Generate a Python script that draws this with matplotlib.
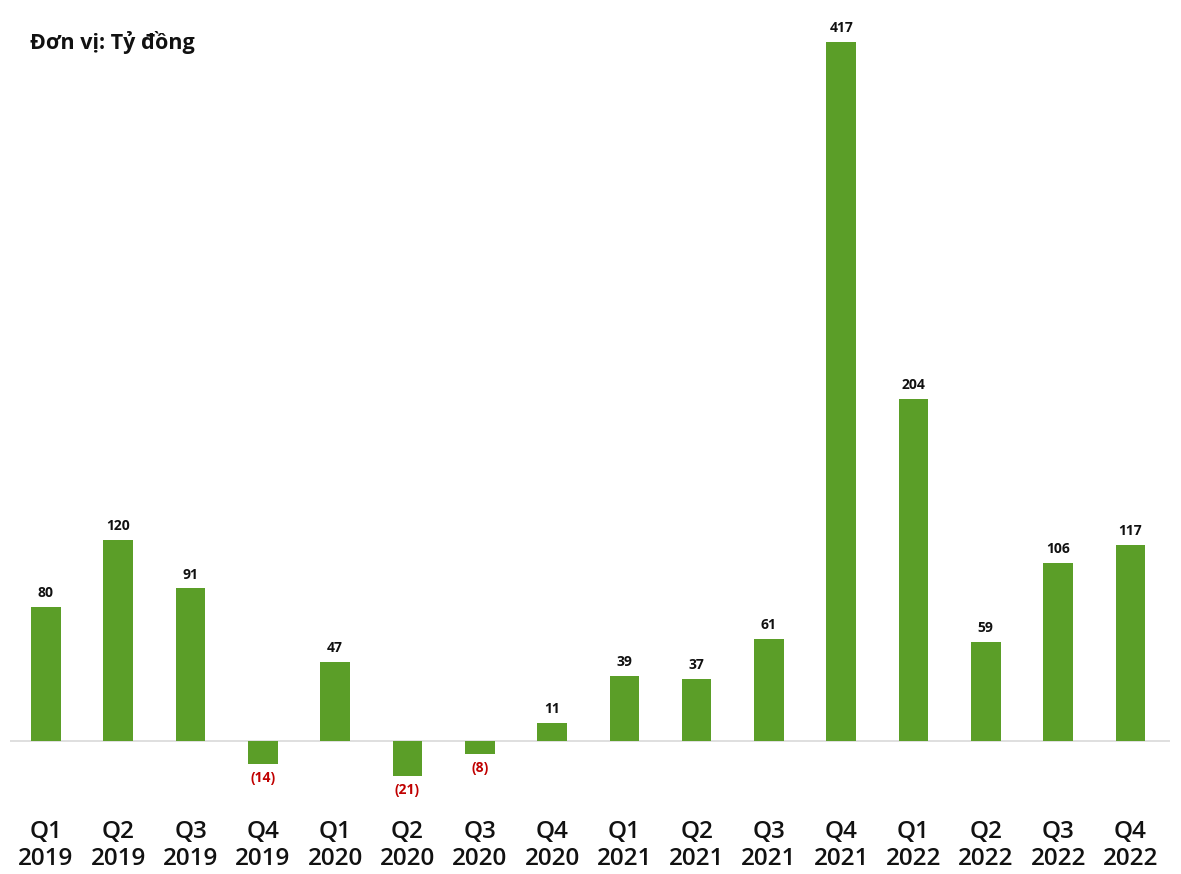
import matplotlib.pyplot as plt

quarters = ["Q1", "Q2", "Q3", "Q4"] * 4
years = ["2019"] * 4 + ["2020"] * 4 + ["2021"] * 4 + ["2022"] * 4
profit = [80, 120, 91, -14, 47, -21, -8, 11, 39, 37, 61, 417, 204, 59, 106, 117]

plt.rcParams["font.family"] = ["Open Sans", "DejaVu Sans"]

fig = plt.figure(figsize=(11.81, 8.74), dpi=100)
ax = fig.add_axes([0, 79 / 874, 1, 1 - 79 / 874])

x = list(range(len(profit)))
ax.bar(x, profit, width=0.41, color="#5B9E28", zorder=2)
ax.hlines(0, -0.5, 15.55, color="#D9D9D9", linewidth=1.2, zorder=1)

for i, v in zip(x, profit):
    if v >= 0:
        ax.annotate(f"{v}", (i, v), xytext=(0, 5), textcoords="offset points",
                    ha="center", va="bottom", fontsize=10, fontweight="bold", color="#111111")
    else:
        ax.annotate(f"({-v})", (i, v), xytext=(0, -5), textcoords="offset points",
                    ha="center", va="top", fontsize=10, fontweight="bold", color="#C00000")

ax.set_xlim(-0.636, 15.70)
ax.set_ylim(-32.2, 442.1)
ax.set_xticks(x)
ax.set_xticklabels([f"{q}\n{y}" for q, y in zip(quarters, years)], fontsize=17.5,
                   fontweight="semibold", color="#111111", linespacing=1.15)
ax.tick_params(axis="x", length=0, pad=18)
ax.set_yticks([])
for s in ax.spines.values():
    s.set_visible(False)

fig.text(30 / 1181, 1 - 42 / 874, "Đơn vị: Tỷ đồng", fontsize=15.5, fontweight="bold",
         color="#111111", ha="left", va="center")

fig.savefig("out.png", dpi=100)
